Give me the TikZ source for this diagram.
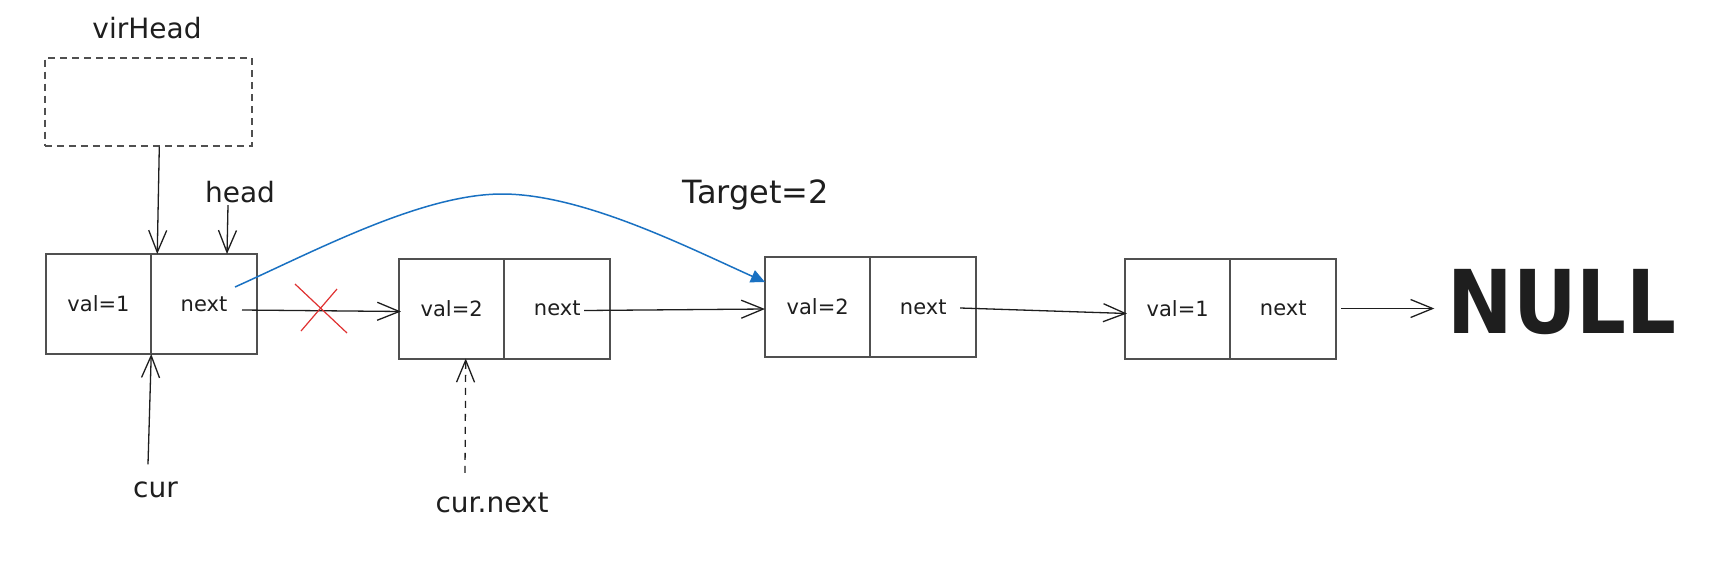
\documentclass[tikz,border=0pt]{standalone}
\usepackage{fontspec}
\setmainfont{DejaVu Sans}
\usetikzlibrary{arrows.meta,calc,positioning}
\definecolor{ink}{HTML}{1E1E1E}
\definecolor{boxgray}{HTML}{505050}
\definecolor{xblue}{HTML}{1971C2}
\definecolor{xred}{HTML}{E03131}
\begin{document}
\begin{tikzpicture}[x=1pt,y=-1pt,
  cell/.style={draw=boxgray,line width=2pt,minimum width=105.5pt,minimum height=100pt,inner sep=0pt,outer sep=0pt,font=\fontsize{21}{25}\selectfont,text=ink},
  lbl/.style={inner sep=0pt,text=ink,font=\fontsize{28}{32}\selectfont},
  arr/.style={draw=ink,line width=1.3pt,-{Straight Barb[length=22pt,width=18pt]}},
]
\useasboundingbox[fill=white] (0,0) rectangle (1728,570);
% virtual head
\node[draw=boxgray,line width=2pt,dash pattern=on 7pt off 5pt,minimum width=207pt,minimum height=88pt,inner sep=0pt] (vh) at (148.3,101.7) {};
\node[lbl] (vhl) at (147,28.5) {virHead};
% boxes
\node[cell] (b1v) at (98.5,304) {val=1};
\node[cell,right=0pt of b1v] (b1n) {next};
\node[cell] (b2v) at (451.7,308.5) {val=2};
\node[cell,right=0pt of b2v] (b2n) {next};
\node[cell] (b3v) at (817.7,307) {val=2};
\node[cell,right=0pt of b3v] (b3n) {next};
\node[cell] (b4v) at (1177.7,308.5) {val=1};
\node[cell,right=0pt of b4v] (b4n) {next};
\node[inner sep=0pt,text=ink,font=\bfseries\fontsize{88}{90}\selectfont] (nul) at (1562,302.5) {\scalebox{0.89}[1]{NULL}};
% labels
\node[lbl] (headl) at (240,192) {head};
\node[lbl] (curl) at (155.5,489.5) {cur};
\node[lbl] (cnl) at (492,503) {cur.next};
\node[lbl,font=\fontsize{32}{36}\selectfont] (tg) at (756,195) {Target=2};
% pointer arrows
\draw[arr] ($(vh.south)+(11,0)$) -- ($(b1v.north east)+(6,0)$);
\draw[arr] ($(headl.south)+(-12,2)$) -- ($(b1n.north)+(23,0)$);
\draw[arr] ($(curl.north)+(-7.5,-17)$) -- (b1v.south east);
\draw[arr,dash pattern=on 7pt off 6pt] ($(cnl.north)+(-27,-20)$) -- ($(b2v.south)+(14,0)$);
% list links
\draw[arr] ($(b1n.center)+(38,6)$) -- ($(b2v.west)+(2,3)$);
\draw[arr] ($(b2n.center)+(27,2)$) -- ($(b3v.west)+(0,2)$);
\draw[arr] ($(b3n.center)+(37,1)$) -- ($(b4v.west)+(2,5)$);
\draw[arr] ($(b4n.center)+(58,0)$) -- ($(nul.west)+(-13,6)$);
% red cross
\coordinate (xc) at (320,309);
\draw[xred,line width=1.2pt] ($(xc)+(-25,-25)$) -- ($(xc)+(27,24)$);
\draw[xred,line width=1.2pt] ($(xc)+(17,-20)$) -- ($(xc)+(-19,22)$);
% blue bypass
\coordinate (peak) at (502,194);
\draw[xblue,line width=1.5pt,-{Triangle[length=14pt,width=13pt]}]
  ($(b1n.center)+(31,-17)$) .. controls +(80,-36) and +(-80,0) .. (peak)
  .. controls +(80,0) and +(-80,-36) .. ($(b3v.west)+(0,-25)$);
\end{tikzpicture}
\end{document}
